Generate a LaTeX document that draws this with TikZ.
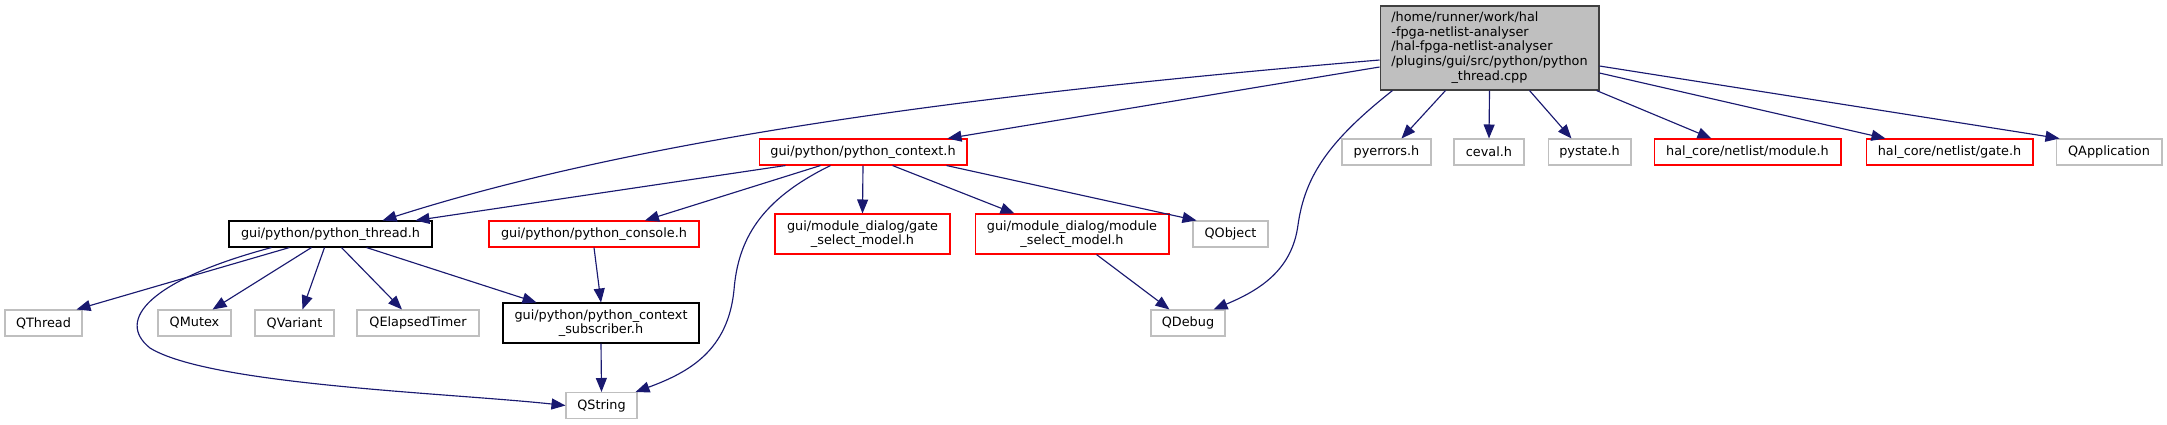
\documentclass[tikz,border=0pt]{standalone}
\usepackage{fontspec}
\setmainfont{DejaVu Sans}
\usetikzlibrary{arrows.meta,calc}
\definecolor{edgeblue}{HTML}{191970}
\definecolor{extgray}{HTML}{BFBFBF}
\definecolor{rootline}{HTML}{404040}

\begin{document}
\begin{tikzpicture}[
    x=0.02cm, y=-0.02cm,
    box/.style={rectangle, draw=black, line width=0.6pt, inner sep=0pt, minimum height=0.52cm, align=center, font=\fontsize{7.3}{8.3}\selectfont},
    extbox/.style={box, draw=extgray},
    redbox/.style={box, draw=red},
    rootbox/.style={box, draw=rootline, fill=extgray},
    arrow/.style={-{Triangle[length=0.28cm, width=0.22cm]}, draw=edgeblue, line width=0.65pt}
]
\useasboundingbox (0,0) rectangle (2167,424);

\node[rootbox, minimum width=4.38cm, minimum height=1.68cm] (root) at (1489.5,48) {\begin{tabular}{@{}l@{}}/home/runner/work/hal\\-fpga-netlist-analyser\\/hal-fpga-netlist-analyser\\/plugins/gui/src/python/python\\\multicolumn{1}{@{}c@{}}{\_thread.cpp}\end{tabular}};

\node[redbox, minimum width=4.16cm] (context) at (863,152) {gui/python/python\_context.h};
\node[extbox, minimum width=1.78cm] (pyerrors) at (1386.5,152) {pyerrors.h};
\node[extbox, minimum width=1.40cm] (ceval) at (1489,152) {ceval.h};
\node[extbox, minimum width=1.66cm] (pystate) at (1589.5,152) {pystate.h};
\node[redbox, minimum width=3.74cm] (module) at (1747.5,152) {hal\_core/netlist/module.h};
\node[redbox, minimum width=3.34cm] (gate) at (1949.5,152) {hal\_core/netlist/gate.h};
\node[extbox, minimum width=2.12cm] (qapp) at (2109,152) {QApplication};

\node[box, minimum width=4.06cm] (thread) at (330.5,234) {gui/python/python\_thread.h};
\node[redbox, minimum width=4.20cm] (console) at (594,234) {gui/python/python\_console.h};
\node[redbox, minimum width=3.50cm, minimum height=0.8cm] (gatesel) at (862.5,234) {gui/module\_dialog/gate\\\_select\_model.h};
\node[redbox, minimum width=3.88cm, minimum height=0.8cm] (modsel) at (1072,234) {gui/module\_dialog/module\\\_select\_model.h};
\node[extbox, minimum width=1.50cm] (qobject) at (1230.5,234) {QObject};

\node[extbox, minimum width=1.54cm] (qthread) at (43.5,323) {QThread};
\node[extbox, minimum width=1.46cm] (qmutex) at (194.5,323) {QMutex};
\node[extbox, minimum width=1.58cm] (qvariant) at (294.5,323) {QVariant};
\node[extbox, minimum width=2.44cm] (qtimer) at (418,323) {QElapsedTimer};
\node[box, minimum width=3.92cm, minimum height=0.8cm] (subscriber) at (601,323) {gui/python/python\_context\\\_subscriber.h};
\node[extbox, minimum width=1.48cm] (qdebug) at (1188,323) {QDebug};

\node[extbox, minimum width=1.42cm] (qstring) at (601.5,405.5) {QString};

\draw[arrow] ($(root.west)+(0,12)$) .. controls (1000,92) and (650,135) .. ($(thread.north west)+(154,0)$);
\draw[arrow] ($(root.west)+(0,19)$) -- ($(context.north east)+(-20,0)$);
\draw[arrow] ($(root.south west)+(13,0)$) .. controls (1330,140) and (1305,175) .. (1298,225) .. controls (1292,270) and (1260,290) .. ($(qdebug.north east)+(-12,0)$);
\draw[arrow] ($(root.south west)+(66,0)$) -- ($(pyerrors.north)+(15,0)$);
\draw[arrow] (root.south) -- (ceval.north);
\draw[arrow] ($(root.south west)+(150,0)$) -- ($(pystate.north)+(-18,0)$);
\draw[arrow] ($(root.south east)+(-3,0)$) -- ($(module.north west)+(58,0)$);
\draw[arrow] ($(root.east)+(0,25)$) -- ($(gate.north west)+(20,0)$);
\draw[arrow] ($(root.east)+(0,18)$) -- ($(qapp.north west)+(4,0)$);

\draw[arrow] ($(context.south west)+(27,0)$) -- ($(thread.north east)+(-17,0)$);
\draw[arrow] ($(context.south west)+(62,0)$) -- ($(console.north)+(51,0)$);
\draw[arrow] ($(context.south west)+(72,0)$) .. controls (760,200) and (738,240) .. (734,290) .. controls (728,350) and (690,372) .. ($(qstring.north east)+(-2,0)$);
\draw[arrow] (context.south) -- (gatesel.north);
\draw[arrow] ($(context.south west)+(134,0)$) -- ($(modsel.north west)+(40,0)$);
\draw[arrow] ($(context.south east)+(-21,0)$) -- ($(qobject.north west)+(4,0)$);

\draw[arrow] ($(thread.south west)+(61,0)$) -- ($(qthread.north east)+(-6,0)$);
\draw[arrow] ($(thread.south west)+(43,0)$) .. controls (150,280) and (115,320) .. (150,348) .. controls (210,385) and (450,393) .. (qstring.west);
\draw[arrow] ($(thread.south west)+(83,0)$) -- ($(qmutex.north east)+(-19,0)$);
\draw[arrow] ($(thread.south west)+(96,0)$) -- ($(qvariant.north)+(8,0)$);
\draw[arrow] ($(thread.south west)+(113,0)$) -- ($(qtimer.north)+(-16,0)$);
\draw[arrow] ($(thread.south west)+(138,0)$) -- ($(subscriber.north west)+(34,0)$);

\draw[arrow] (console.south) -- (subscriber.north);
\draw[arrow] (subscriber.south) -- (qstring.north);
\draw[arrow] ($(modsel.south west)+(122,0)$) -- ($(qdebug.north west)+(19,0)$);
\end{tikzpicture}
\end{document}
